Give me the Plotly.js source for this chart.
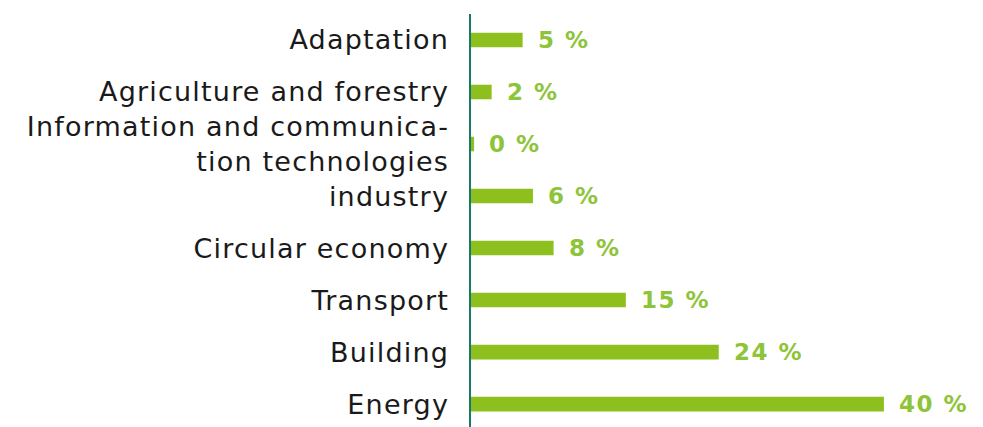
<!DOCTYPE html>
<html>
<head>
<meta charset="utf-8">
<script src="https://cdn.plot.ly/plotly-3.0.1.min.js"></script>
<style>html,body{margin:0;padding:0;background:#fff;}#chart{width:983px;height:427px;}
.annotation-text{letter-spacing:1.5px;}
.ytick text{letter-spacing:1.2px;}</style>
</head>
<body>
<div id="chart"></div>
<script>
const categories = ["Energy", "Building", "Transport", "Circular economy", "industry",
  "Information and communica-<br>tion technologies", "Agriculture and forestry", "Adaptation"];
const values = [40, 24, 15, 8, 6, 0.3, 2, 5];
const valueLabels = ["40 %", "24 %", "15 %", "8 %", "6 %", "0 %", "2 %", "5 %"];

const barColor = "#8dbf1e";
const textColor = "#8dc43a";

const annotations = values.map((v, i) => ({
  x: v, y: categories[i], xref: "x", yref: "y",
  text: valueLabels[i], showarrow: false,
  xanchor: "left", yanchor: "middle", xshift: 13,
  font: {family: "DejaVu Sans", size: 23, color: textColor, weight: 700}
}));

const trace = {
  type: "bar", orientation: "h",
  x: values, y: categories,
  marker: {color: barColor},
  hoverinfo: "none"
};

const layout = {
  width: 983, height: 427,
  margin: {l: 471, r: 0, t: 14, b: 0, pad: 0},
  paper_bgcolor: "#ffffff", plot_bgcolor: "#ffffff",
  showlegend: false,
  bargap: 0.72,
  xaxis: {range: [0, 49.6], showgrid: false, zeroline: false, showticklabels: false, showline: false, fixedrange: true},
  yaxis: {
    type: "category", range: [-0.44, 7.5],
    showgrid: false, zeroline: false,
    showline: true, linecolor: "#17796a", linewidth: 2.5,
    ticks: "", ticklabelstandoff: 14,
    tickfont: {family: "DejaVu Sans", size: 27, color: "#1a1a1a"}
  },
  annotations: annotations
};

Plotly.newPlot("chart", [trace], layout, {staticPlot: true, displayModeBar: false});
</script>
</body>
</html>
